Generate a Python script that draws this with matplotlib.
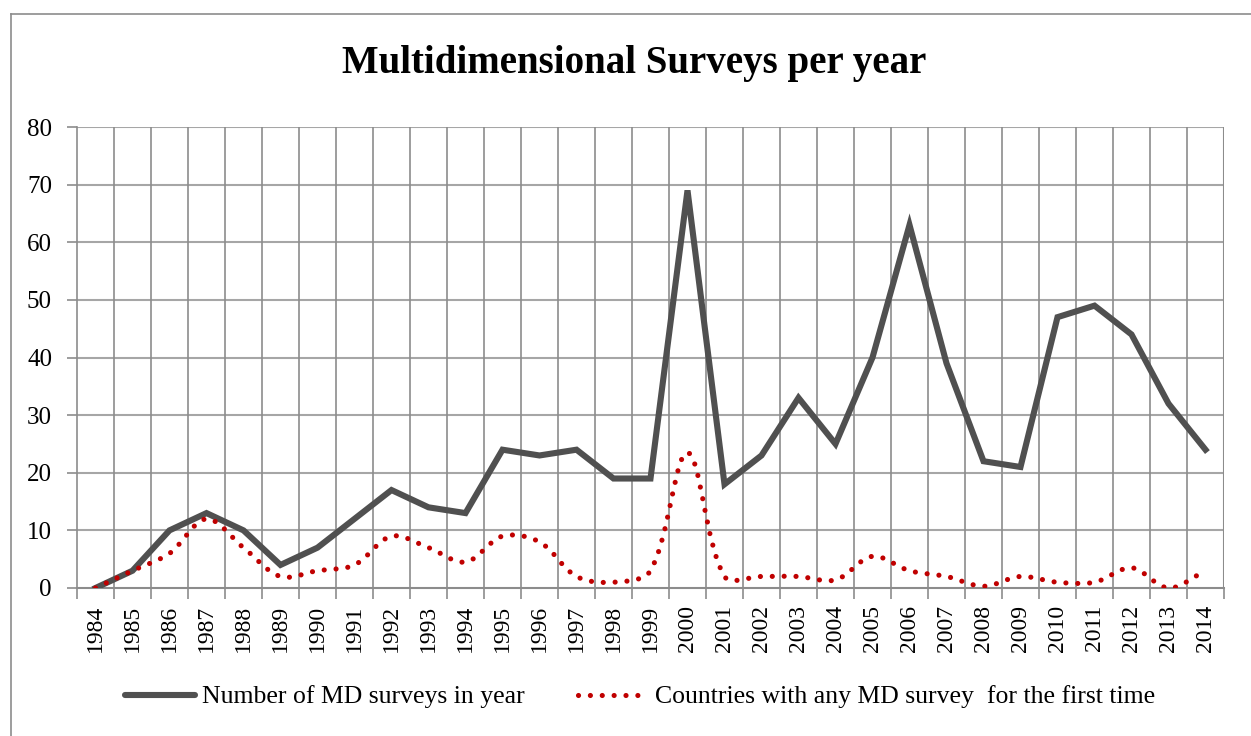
import matplotlib
matplotlib.use("Agg")
import matplotlib.pyplot as plt
from matplotlib.path import Path
from matplotlib.patches import PathPatch
from matplotlib.lines import Line2D
import numpy as np

plt.rcParams['font.family'] = ['Liberation Serif', 'DejaVu Serif']

years = list(range(1984, 2015))
md_surveys = [0, 3, 10, 13, 10, 4, 7, 12, 17, 14, 13, 24, 23, 24, 19, 19,
              69, 18, 23, 33, 25, 40, 63, 39, 22, 21, 47, 49, 44, 32, 24]
first_time = [0, 3, 6, 12, 7, 2, 3, 4, 9, 7, 4.5, 9, 8, 2, 1, 3,
              23.5, 2, 2, 2, 1.4, 5.5, 3, 2, 0.3, 2, 1, 1, 3.5, 0, 3]

gray = '#505050'
red = '#C00000'


def smooth_path(xs, ys, sx, sy, f=1 / 3):
    # cubic bezier through every point; control arms follow the
    # neighbour chord and are split by segment length (in screen units)
    pts = np.column_stack([xs, ys]).astype(float)
    scr = pts * [sx, sy]
    n = len(pts)
    before = pts.copy()
    after = pts.copy()
    for i in range(n):
        a = scr[max(i - 1, 0)]
        b = scr[min(i + 1, n - 1)]
        d0 = np.hypot(*(scr[i] - a))
        d1 = np.hypot(*(b - scr[i]))
        if d0 + d1 == 0:
            continue
        t = (b - a) / [sx, sy]
        before[i] = pts[i] - t * f * d0 / (d0 + d1)
        after[i] = pts[i] + t * f * d1 / (d0 + d1)
    verts = [pts[0]]
    codes = [Path.MOVETO]
    for i in range(n - 1):
        verts += [after[i], before[i + 1], pts[i + 1]]
        codes += [Path.CURVE4] * 3
    return Path(verts, codes)


fig = plt.figure(figsize=(12.51, 7.36), dpi=100)
ax = fig.add_axes([77 / 1251, 1 - 588 / 736, (1224 - 77) / 1251, (588 - 127) / 736])

x = np.arange(len(years))
ax.plot(x, md_surveys, color=gray, linewidth=4.4, solid_joinstyle='miter', zorder=3)

dots = PathPatch(smooth_path(x, first_time, 37.0, 5.76), facecolor='none', edgecolor=red,
                 linewidth=3.7, linestyle=(0, (0.01, 2.3)), capstyle='round', zorder=4)
ax.add_patch(dots)

ax.set_xlim(-0.5, len(years) - 0.5)
ax.set_ylim(0, 80)
ax.set_yticks(range(0, 81, 10))
ax.set_xticks(x)
ax.set_xticklabels([str(y) for y in years], rotation=90)
ax.set_xticks(np.arange(-0.5, len(years), 1.0), minor=True)

ax.grid(False)
for yv in range(10, 81, 10):
    ax.axhline(yv, color='#A6A6A6', linewidth=1.5, zorder=1)
for xv in np.arange(0.5, len(years) - 0.5, 1.0):
    ax.axvline(xv, color='#8C8C8C', linewidth=1.2, zorder=1)
ax.axvline(len(years) - 0.5, color='#8C8C8C', linewidth=1.5, zorder=1)

for side in ['top', 'right']:
    ax.spines[side].set_visible(False)
ax.spines['left'].set_color('#8C8C8C')
ax.spines['bottom'].set_color('#8C8C8C')
ax.spines['left'].set_linewidth(1.2)
ax.spines['bottom'].set_linewidth(1.5)

ax.tick_params(axis='x', which='major', length=0, pad=12, labelsize=17)
ax.tick_params(axis='x', which='minor', length=8, width=1.2, color='#8C8C8C')
ax.tick_params(axis='y', length=7, width=1.2, color='#8C8C8C', pad=11, labelsize=18)

fig.text(634 / 1251, 1 - 64 / 736, 'Multidimensional Surveys per year',
         ha='center', va='center', fontsize=28, fontweight='bold')

handles = [Line2D([], [], color=gray, linewidth=4.4, solid_capstyle='round'),
           Line2D([], [], color=red, linewidth=3.7, linestyle=(0, (0.01, 2.3)),
                  dash_capstyle='round')]
labels = ['Number of MD surveys in year', 'Countries with any MD survey  for the first time']
fig.legend(handles, labels, loc='center', bbox_to_anchor=(640 / 1251, 1 - 697 / 736),
           ncol=2, frameon=False, fontsize=18.5, handlelength=2.7, handletextpad=0.3,
           columnspacing=2.05)

# chart frame
fig.add_artist(Line2D([11 / 1251, 1.0], [1 - 14 / 736, 1 - 14 / 736], color='#8C8C8C', linewidth=1.2))
fig.add_artist(Line2D([11 / 1251, 11 / 1251], [0, 1 - 14 / 736], color='#8C8C8C', linewidth=1.2))

fig.savefig('out.png', dpi=100)
